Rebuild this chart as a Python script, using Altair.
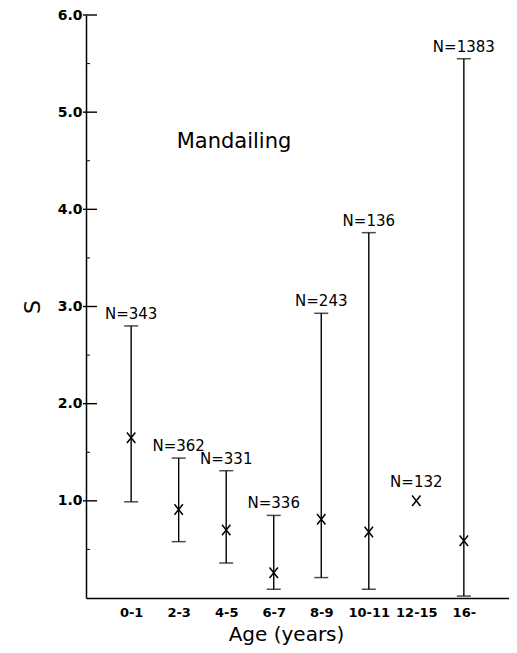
import altair as alt
import pandas as pd

ages = ["0-1", "2-3", "4-5", "6-7", "8-9", "10-11", "12-15", "16-"]
n_values = [343, 362, 331, 336, 243, 136, 132, 1383]
mean_s = [1.65, 0.91, 0.70, 0.26, 0.81, 0.68, 1.00, 0.59]
low_s = [0.99, 0.58, 0.36, 0.09, 0.21, 0.09, None, 0.02]
high_s = [2.80, 1.44, 1.31, 0.85, 2.93, 3.76, None, 5.55]
major_ticks = [1.0, 2.0, 3.0, 4.0, 5.0, 6.0]
minor_ticks = [0.5, 1.5, 2.5, 3.5, 4.5, 5.5]

FONT = "DejaVu Sans"
XT = "Age (years)"
YT = "S"

df = pd.DataFrame({"age": ages, "n": n_values, "mean": mean_s, "low": low_s, "high": high_s})
df["label"] = ["N=" + str(v) for v in n_values]

W, H = 423, 583

xscale = alt.Scale(type="point", domain=ages, padding=0.95)
yscale = alt.Scale(domain=[0, 6], nice=False, zero=True)

base = alt.Chart(df)


def X():
    return alt.X("age:N", scale=xscale, sort=ages, title=XT)


def Y(field):
    return alt.Y(field, scale=yscale, title=YT,
                 axis=alt.Axis(values=major_ticks, format=".1f"))


bars = base.transform_filter("isValid(datum.high)").mark_rule(color="black", strokeWidth=1.4).encode(
    x=X(), y=Y("low:Q"), y2="high:Q",
)
cap_hi = base.transform_filter("isValid(datum.high)").mark_tick(
    color="black", orient="horizontal", size=14, thickness=1.5).encode(
    x=X(), y=Y("high:Q"),
)
cap_lo = base.transform_filter("isValid(datum.low)").mark_tick(
    color="black", orient="horizontal", size=14, thickness=1.5).encode(
    x=X(), y=Y("low:Q"),
)
means = base.mark_point(shape="M-0.8,-1L0.8,1M-0.8,1L0.8,-1", size=110,
                        filled=False, color="black", strokeWidth=1.5, opacity=1).encode(
    x=X(), y=Y("mean:Q"),
)
labels_bar = base.transform_filter("isValid(datum.high)").mark_text(
    font=FONT, fontSize=15, color="black", dy=-12, baseline="middle").encode(
    x=X(), y=Y("high:Q"), text="label:N",
)
labels_pt = base.transform_filter("!isValid(datum.high)").mark_text(
    font=FONT, fontSize=15, color="black", dy=-19, baseline="middle").encode(
    x=X(), y=Y("mean:Q"), text="label:N",
)

major_df = pd.DataFrame({"v": major_ticks})
minor_df = pd.DataFrame({"v": minor_ticks})
major = alt.Chart(major_df).mark_rule(color="black", strokeWidth=1.4).encode(
    y=Y("v:Q"), x=alt.value(-3), x2=alt.value(11))
minor = alt.Chart(minor_df).mark_rule(color="black", strokeWidth=1).encode(
    y=Y("v:Q"), x=alt.value(0), x2=alt.value(4))

title_df = pd.DataFrame({"t": ["Mandailing"]})
title = alt.Chart(title_df).mark_text(font=FONT, fontSize=21, color="black", align="center",
                                      baseline="middle").encode(
    x=alt.value(148), y=alt.value(127), text="t:N")

chart = alt.layer(means, bars, cap_hi, cap_lo, labels_bar, labels_pt, major, minor, title).properties(
    width=W, height=H,
    background="white",
    autosize=alt.AutoSizeParams(type="none"),
    padding={"left": 78, "top": 7, "right": 0, "bottom": 47},
).configure_view(strokeWidth=0, stroke="transparent").configure_axis(
    grid=False, ticks=False, tickSize=0, domainColor="black", domainWidth=1.5,
    labelColor="black", titleColor="black", labelFont=FONT, titleFont=FONT,
    titleFontWeight="normal", labelFontWeight="bold", labelFontSize=13,
).configure_axisX(
    labelAngle=0, labelAlign="center", labelPadding=8, titlePadding=5, titleFontSize=20,
    titleX=200, titleAnchor="middle", titleAlign="center",
).configure_axisY(
    labelPadding=4, titlePadding=13, titleFontSize=22, labelFontSize=14,
)

chart.save("out.html", embed_options={"renderer": "svg", "actions": False})
